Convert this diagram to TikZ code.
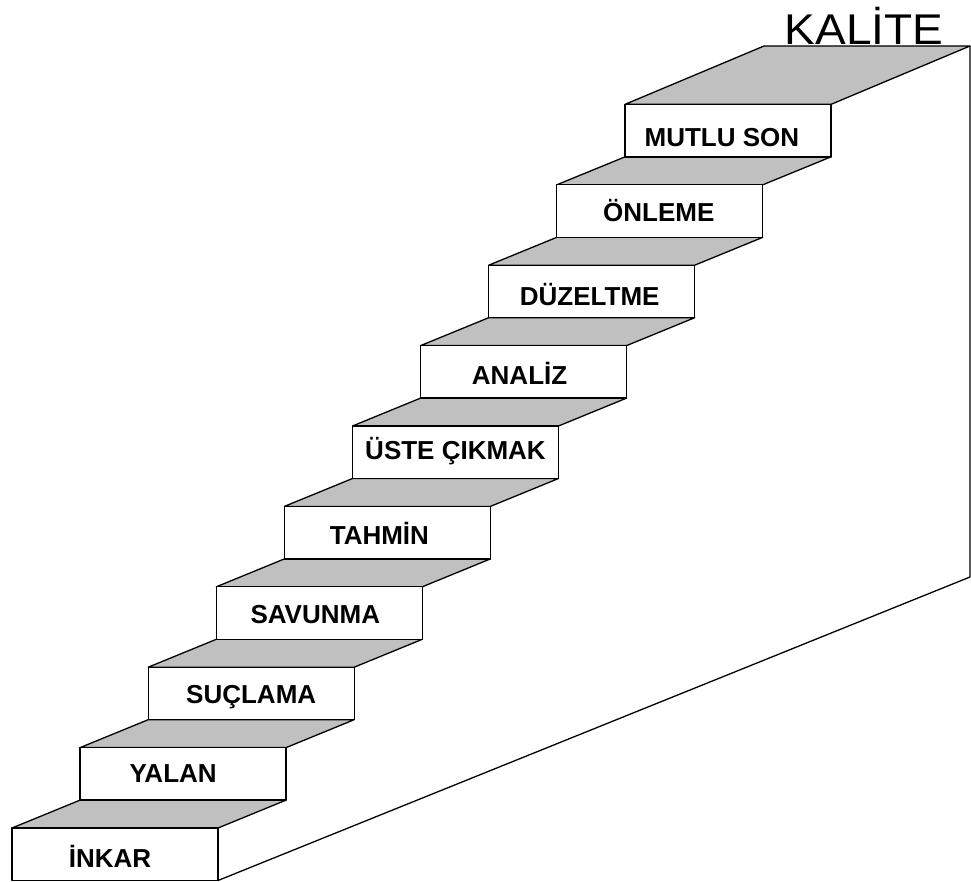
\documentclass[tikz,border=0pt]{standalone}
\usepackage{fontspec}
\setmainfont{Liberation Sans}
\newfontfamily\kalfont[FakeStretch=1.07]{Liberation Sans}
\definecolor{treadgray}{HTML}{C0C0C0}
\begin{document}
\begin{tikzpicture}[x=1pt,y=-1pt,line width=1.3pt,line join=round,
  tread/.style={fill=treadgray,draw=black},
  face/.style={fill=white,draw=black},
  lbl/.style={font=\fontsize{26}{30}\selectfont\bfseries,inner sep=0pt,anchor=base}]
\useasboundingbox (0,0) rectangle (971,882);
\fill[white] (0,0) rectangle (971,882);
% side wall
\coordinate (wtop) at (970,46);
\coordinate (wcorner) at (970,577);
\coordinate (wbottom) at (218,880.5);
\draw (wtop) -- (wcorner) -- (wbottom);
% steps
\foreach \i/\t/\dx/\dy in {0/İNKAR/-5/39, 1/YALAN/-10/35, 2/SUÇLAMA/0/36, 3/SAVUNMA/-4/37,
  4/TAHMİN/-8/38, 5/ÜSTE ÇIKMAK/0/33, 6/ANALİZ/-4/39, 7/DÜZELTME/-2/40, 8/ÖNLEME/-1/37}{
  \pgfmathsetmacro\L{12+68.1*\i}
  \pgfmathsetmacro\T{828-80.4*\i}
  \draw[tread] (\L,\T) -- (\L+206,\T) -- (\L+274.1,\T-27.9) -- (\L+68.1,\T-27.9) -- cycle;
  \draw[face] (\L,\T) rectangle (\L+206,\T+52.5);
  \node[lbl] (s\i) at (\L+103+\dx,\T+\dy) {\t};
}
% top step
\draw[tread] (624.9,104.4) -- (830.9,104.4) -- (wtop) -- (764,46) -- cycle;
\draw[face] (624.9,104.4) rectangle (830.9,156.9);
\node[lbl] (s9) at (727.9-6,104.4+42) {MUTLU SON};
\node[font=\kalfont\fontsize{43}{48}\selectfont,inner sep=0pt,anchor=base west] (kalite) at (784,45) {KALİTE};
\end{tikzpicture}
\end{document}
